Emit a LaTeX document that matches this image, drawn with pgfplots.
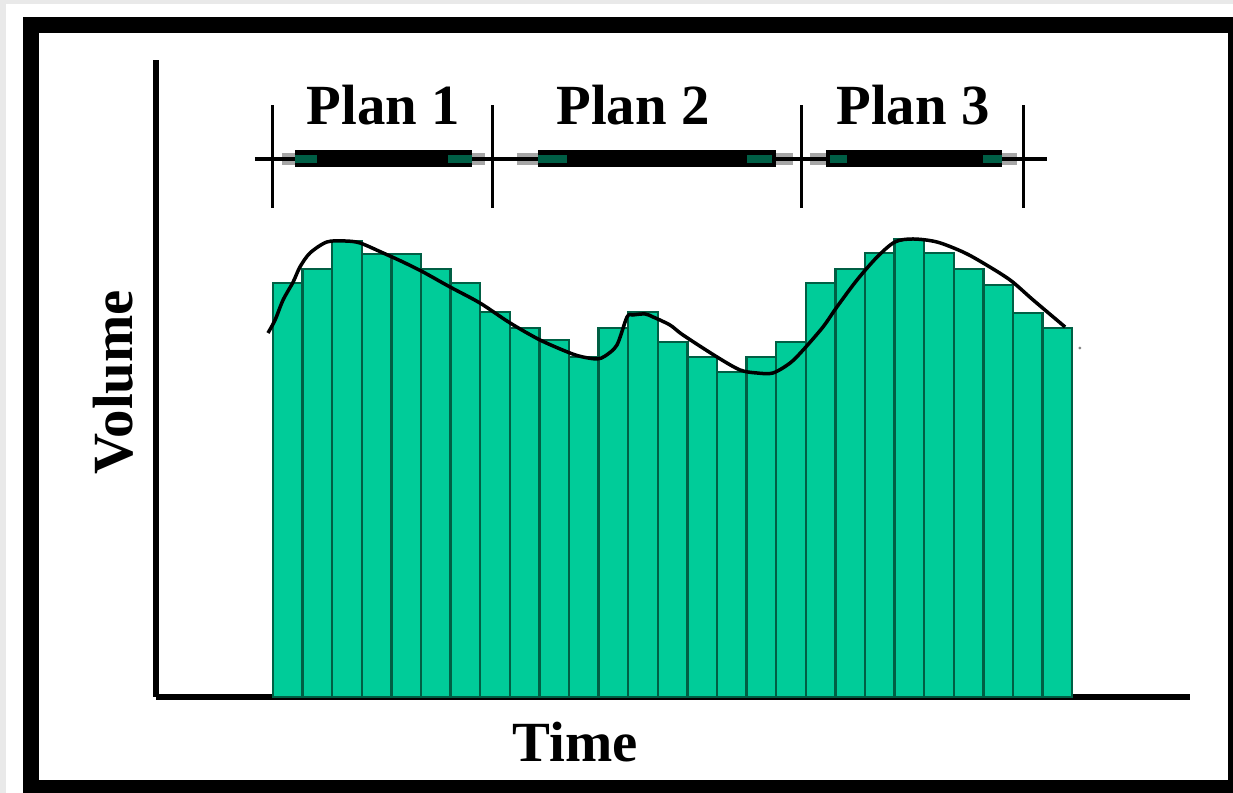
\documentclass[border=0pt]{standalone}
\usepackage{fontspec}
\setmainfont{Liberation Serif}
\usepackage{pgfplots}
\pgfplotsset{compat=1.18}
\definecolor{barfill}{RGB}{0,204,153}
\definecolor{baredge}{RGB}{0,95,68}
\definecolor{marker}{RGB}{0,95,70}
\definecolor{bggray}{RGB}{233,233,233}
\newcommand\bigfont{\fontsize{57}{60}\selectfont\bfseries}

\begin{document}
\begin{tikzpicture}[x=1bp,y=1bp]
\useasboundingbox (0,0) rectangle (1233,793);
% page frame
\fill[bggray] (0,0) rectangle (1233,793);
\fill[white] (6,0) rectangle (1233,789);
\fill[black] (23,0) rectangle (1233,776);
\fill[white] (39,13) rectangle (1228,760);

\begin{axis}[
    at={(156bp,96bp)}, anchor=south west,
    scale only axis, width=1034bp, height=637bp,
    xmin=-3.953, xmax=30.98, ymin=0, ymax=637,
    axis x line=bottom, axis y line=left,
    axis line style={line width=6bp,-},
    xtick=\empty, ytick=\empty,
    clip=false
]
% volume per period
\addplot[ybar, bar width=1, bar shift=0, fill=barfill, draw=baredge, line width=2.5bp]
  coordinates {
  (0.5,414) (1.5,428) (2.5,456) (3.5,443) (4.5,443) (5.5,428) (6.5,414)
  (7.5,385) (8.5,369) (9.5,357) (10.5,340) (11.5,369) (12.5,385) (13.5,355)
  (14.5,340) (15.5,325) (16.5,340) (17.5,355) (18.5,414) (19.5,428) (20.5,444)
  (21.5,458) (22.5,444) (23.5,428) (24.5,412) (25.5,384) (26.5,369)};

% smooth demand curve
\addplot[black, line width=3.5bp, smooth, tension=0.5] coordinates {
  (-0.17,364) (0.07,377) (0.34,397) (0.68,415) (0.91,430) (1.25,444)
  (1.82,455) (2.43,456) (2.94,454) (3.72,444) (4.39,435) (5.07,425)
  (5.98,410) (6.99,394) (8.01,374) (9.02,357) (10.03,344) (10.47,340)
  (10.95,338) (11.22,341) (11.62,352) (11.96,380) (12.16,382) (12.57,383)
  (12.84,380) (13.41,372) (13.85,362) (15.0,340) (15.78,327) (16.35,324)
  (16.89,324) (17.47,334) (17.91,347) (18.58,370) (19.05,390) (19.73,417)
  (20.41,440) (21.01,455) (21.62,458) (22.43,455) (23.31,445) (23.99,434)
  (24.9,417) (25.68,397) (26.76,370)};
\addplot[only marks, mark=*, mark size=1.2bp, gray] coordinates {(27.26,349)};

% plan timeline
\addplot[gray!70, line width=12bp] coordinates {(0.30,538) (7.16,538)};
\addplot[gray!70, line width=12bp] coordinates {(8.24,538) (17.57,538)};
\addplot[gray!70, line width=12bp] coordinates {(18.14,538) (25.14,538)};
\addplot[black, line width=3.5bp] coordinates {(-0.61,538) (26.15,538)};
\addplot[black, line width=17bp] coordinates {(0.743,538) (6.72,538)};
\addplot[black, line width=17bp] coordinates {(8.95,538) (16.99,538)};
\addplot[black, line width=17bp] coordinates {(18.68,538) (24.63,538)};
\addplot[marker, line width=8bp] coordinates {(0.743,538) (1.486,538)};
\addplot[marker, line width=8bp] coordinates {(5.91,538) (6.72,538)};
\addplot[marker, line width=8bp] coordinates {(8.95,538) (9.93,538)};
\addplot[marker, line width=8bp] coordinates {(16.01,538) (16.86,538)};
\addplot[marker, line width=8bp] coordinates {(18.82,538) (19.39,538)};
\addplot[marker, line width=8bp] coordinates {(23.99,538) (24.63,538)};
\addplot[black, line width=3bp] coordinates {(-0.034,489) (-0.034,592)};
\addplot[black, line width=3bp] coordinates {(7.43,489) (7.43,592)};
\addplot[black, line width=3bp] coordinates {(17.87,489) (17.87,592)};
\addplot[black, line width=3bp] coordinates {(25.34,489) (25.34,592)};

\node[anchor=base, font=\bigfont] at (axis cs:3.72,572) {Plan 1};
\node[anchor=base, font=\bigfont] at (axis cs:12.16,572) {Plan 2};
\node[anchor=base, font=\bigfont] at (axis cs:21.62,572) {Plan 3};
\end{axis}

\node[anchor=base, font=\bigfont] at (575,31) {Time};
\node[anchor=base, rotate=90, font=\bigfont] at (132,411) {Volume};
\end{tikzpicture}
\end{document}
